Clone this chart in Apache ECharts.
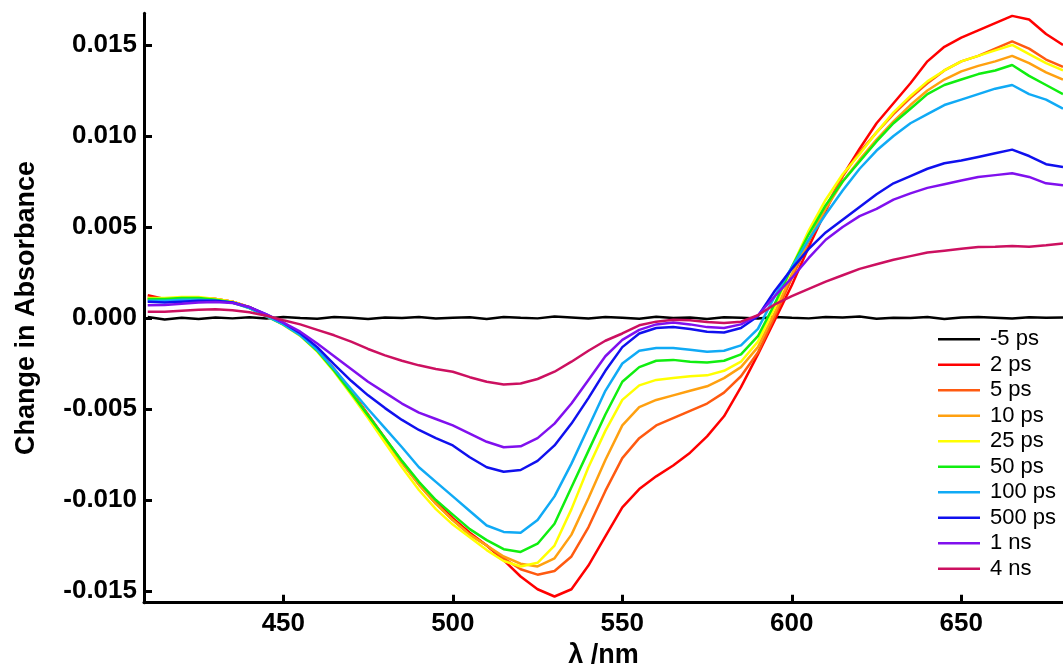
<!DOCTYPE html>
<html>
<head>
<meta charset="utf-8">
<script src="https://cdn.jsdelivr.net/npm/echarts@6/dist/echarts.min.js"></script>
<style>html,body{margin:0;padding:0;background:#fff}#c{width:1063px;height:666px}</style>
</head>
<body>
<div id="c"></div>
<script>
// wavelengths (nm)
const wavelengths = [410,415,420,425,430,435,440,445,450,455,460,465,470,475,480,485,490,495,500,505,510,515,520,525,530,535,540,545,550,555,560,565,570,575,580,585,590,595,600,605,610,615,620,625,630,635,640,645,650,655,660,665,670,675,680];

// Change in absorbance for each delay
const dA_m5ps = [0.05e-3,-0.08e-3,0.02e-3,-0.05e-3,0.03e-3,-0.02e-3,0.04e-3,-0.03e-3,0.06e-3,0.0,-0.04e-3,0.05e-3,0.02e-3,-0.06e-3,0.03e-3,0.0,0.05e-3,-0.03e-3,0.02e-3,0.04e-3,-0.05e-3,0.06e-3,0.01e-3,-0.02e-3,0.08e-3,0.03e-3,-0.03e-3,0.05e-3,0.02e-3,-0.04e-3,0.07e-3,0.0,0.03e-3,-0.05e-3,0.04e-3,0.02e-3,-0.03e-3,0.06e-3,0.01e-3,-0.02e-3,0.05e-3,0.03e-3,0.08e-3,-0.04e-3,0.02e-3,0.0,0.05e-3,-0.06e-3,0.03e-3,0.06e-3,0.02e-3,-0.03e-3,0.04e-3,0.01e-3,0.03e-3];
const dA_2ps = [1.25e-3,1.05e-3,1.12e-3,1.10e-3,1.05e-3,0.90e-3,0.60e-3,0.15e-3,-0.30e-3,-0.90e-3,-1.70e-3,-2.80e-3,-4.00e-3,-5.30e-3,-6.60e-3,-7.90e-3,-9.10e-3,-10.10e-3,-11.00e-3,-11.80e-3,-12.50e-3,-13.30e-3,-14.20e-3,-14.90e-3,-15.30e-3,-14.90e-3,-13.60e-3,-12.00e-3,-10.40e-3,-9.40e-3,-8.70e-3,-8.10e-3,-7.40e-3,-6.50e-3,-5.40e-3,-3.80e-3,-2.00e-3,-0.10e-3,1.80e-3,3.90e-3,5.90e-3,7.80e-3,9.30e-3,10.70e-3,11.80e-3,12.90e-3,14.10e-3,14.90e-3,15.40e-3,15.80e-3,16.20e-3,16.60e-3,16.40e-3,15.60e-3,15.00e-3];
const dA_5ps = [1.10e-3,1.05e-3,1.10e-3,1.10e-3,1.05e-3,0.90e-3,0.60e-3,0.15e-3,-0.30e-3,-0.90e-3,-1.75e-3,-2.85e-3,-4.05e-3,-5.35e-3,-6.65e-3,-7.95e-3,-9.15e-3,-10.20e-3,-11.10e-3,-11.90e-3,-12.50e-3,-13.20e-3,-13.80e-3,-14.10e-3,-13.90e-3,-13.10e-3,-11.50e-3,-9.50e-3,-7.70e-3,-6.60e-3,-5.90e-3,-5.50e-3,-5.10e-3,-4.70e-3,-4.10e-3,-3.20e-3,-1.90e-3,0.10e-3,2.20e-3,4.20e-3,6.10e-3,7.80e-3,9.10e-3,10.20e-3,11.20e-3,12.10e-3,12.90e-3,13.60e-3,14.10e-3,14.40e-3,14.80e-3,15.20e-3,14.80e-3,14.20e-3,13.80e-3];
const dA_10ps = [1.05e-3,1.05e-3,1.10e-3,1.10e-3,1.05e-3,0.90e-3,0.60e-3,0.15e-3,-0.30e-3,-0.90e-3,-1.75e-3,-2.85e-3,-4.05e-3,-5.35e-3,-6.65e-3,-7.95e-3,-9.15e-3,-10.20e-3,-11.10e-3,-11.90e-3,-12.50e-3,-13.10e-3,-13.50e-3,-13.65e-3,-13.20e-3,-11.90e-3,-9.90e-3,-7.80e-3,-5.90e-3,-4.90e-3,-4.50e-3,-4.25e-3,-4.00e-3,-3.75e-3,-3.30e-3,-2.70e-3,-1.60e-3,0.30e-3,2.40e-3,4.30e-3,6.00e-3,7.50e-3,8.70e-3,9.80e-3,10.80e-3,11.70e-3,12.50e-3,13.10e-3,13.55e-3,13.85e-3,14.10e-3,14.40e-3,14.00e-3,13.50e-3,13.10e-3];
const dA_25ps = [1.10e-3,1.10e-3,1.15e-3,1.15e-3,1.05e-3,0.90e-3,0.55e-3,0.10e-3,-0.38e-3,-0.98e-3,-1.85e-3,-2.95e-3,-4.20e-3,-5.50e-3,-6.85e-3,-8.20e-3,-9.45e-3,-10.50e-3,-11.35e-3,-12.05e-3,-12.75e-3,-13.35e-3,-13.65e-3,-13.45e-3,-12.50e-3,-10.50e-3,-8.20e-3,-6.20e-3,-4.50e-3,-3.70e-3,-3.40e-3,-3.30e-3,-3.20e-3,-3.15e-3,-2.90e-3,-2.40e-3,-1.30e-3,0.60e-3,2.80e-3,4.80e-3,6.50e-3,7.90e-3,9.00e-3,10.20e-3,11.30e-3,12.20e-3,13.00e-3,13.60e-3,14.10e-3,14.40e-3,14.70e-3,15.00e-3,14.50e-3,14.00e-3,13.60e-3];
const dA_50ps = [1.05e-3,1.05e-3,1.10e-3,1.10e-3,1.00e-3,0.85e-3,0.55e-3,0.10e-3,-0.35e-3,-0.95e-3,-1.80e-3,-2.90e-3,-4.10e-3,-5.35e-3,-6.60e-3,-7.85e-3,-9.00e-3,-10.00e-3,-10.80e-3,-11.60e-3,-12.20e-3,-12.70e-3,-12.85e-3,-12.40e-3,-11.30e-3,-9.30e-3,-7.30e-3,-5.30e-3,-3.50e-3,-2.70e-3,-2.35e-3,-2.30e-3,-2.40e-3,-2.45e-3,-2.35e-3,-2.00e-3,-1.00e-3,0.80e-3,2.80e-3,4.60e-3,6.20e-3,7.50e-3,8.60e-3,9.70e-3,10.70e-3,11.50e-3,12.30e-3,12.80e-3,13.10e-3,13.40e-3,13.60e-3,13.90e-3,13.30e-3,12.80e-3,12.30e-3];
const dA_100ps = [0.95e-3,0.95e-3,1.00e-3,1.00e-3,0.95e-3,0.85e-3,0.55e-3,0.10e-3,-0.35e-3,-0.95e-3,-1.75e-3,-2.80e-3,-3.90e-3,-5.00e-3,-6.05e-3,-7.10e-3,-8.20e-3,-9.00e-3,-9.80e-3,-10.60e-3,-11.40e-3,-11.75e-3,-11.80e-3,-11.10e-3,-9.80e-3,-8.00e-3,-6.00e-3,-4.00e-3,-2.50e-3,-1.80e-3,-1.65e-3,-1.65e-3,-1.75e-3,-1.85e-3,-1.80e-3,-1.50e-3,-0.60e-3,1.20e-3,2.80e-3,4.30e-3,5.70e-3,7.00e-3,8.20e-3,9.20e-3,10.00e-3,10.70e-3,11.20e-3,11.70e-3,12.00e-3,12.30e-3,12.60e-3,12.80e-3,12.30e-3,12.00e-3,11.50e-3];
const dA_500ps = [0.90e-3,0.85e-3,0.90e-3,0.95e-3,0.95e-3,0.85e-3,0.60e-3,0.20e-3,-0.26e-3,-0.84e-3,-1.60e-3,-2.55e-3,-3.45e-3,-4.25e-3,-4.95e-3,-5.60e-3,-6.15e-3,-6.60e-3,-7.00e-3,-7.65e-3,-8.20e-3,-8.45e-3,-8.35e-3,-7.85e-3,-7.00e-3,-5.80e-3,-4.40e-3,-2.90e-3,-1.60e-3,-0.85e-3,-0.55e-3,-0.50e-3,-0.60e-3,-0.75e-3,-0.80e-3,-0.55e-3,0.10e-3,1.50e-3,2.70e-3,3.80e-3,4.70e-3,5.40e-3,6.10e-3,6.80e-3,7.40e-3,7.80e-3,8.20e-3,8.50e-3,8.65e-3,8.85e-3,9.05e-3,9.25e-3,8.90e-3,8.45e-3,8.30e-3];
const dA_1ns = [0.70e-3,0.72e-3,0.78e-3,0.85e-3,0.88e-3,0.82e-3,0.60e-3,0.20e-3,-0.25e-3,-0.75e-3,-1.40e-3,-2.10e-3,-2.80e-3,-3.50e-3,-4.10e-3,-4.70e-3,-5.20e-3,-5.55e-3,-5.90e-3,-6.35e-3,-6.80e-3,-7.10e-3,-7.05e-3,-6.60e-3,-5.80e-3,-4.70e-3,-3.40e-3,-2.10e-3,-1.20e-3,-0.65e-3,-0.35e-3,-0.25e-3,-0.35e-3,-0.50e-3,-0.55e-3,-0.35e-3,0.15e-3,1.20e-3,2.20e-3,3.30e-3,4.30e-3,5.00e-3,5.60e-3,6.00e-3,6.50e-3,6.85e-3,7.15e-3,7.35e-3,7.55e-3,7.75e-3,7.85e-3,7.95e-3,7.75e-3,7.40e-3,7.30e-3];
const dA_4ns = [0.35e-3,0.35e-3,0.40e-3,0.45e-3,0.48e-3,0.42e-3,0.32e-3,0.12e-3,-0.12e-3,-0.35e-3,-0.65e-3,-0.95e-3,-1.30e-3,-1.70e-3,-2.05e-3,-2.35e-3,-2.60e-3,-2.80e-3,-2.95e-3,-3.25e-3,-3.50e-3,-3.65e-3,-3.60e-3,-3.35e-3,-2.95e-3,-2.40e-3,-1.80e-3,-1.25e-3,-0.85e-3,-0.40e-3,-0.20e-3,-0.10e-3,-0.12e-3,-0.22e-3,-0.28e-3,-0.20e-3,0.15e-3,0.75e-3,1.20e-3,1.60e-3,2.00e-3,2.35e-3,2.70e-3,2.95e-3,3.20e-3,3.40e-3,3.60e-3,3.70e-3,3.80e-3,3.90e-3,3.92e-3,3.95e-3,3.92e-3,4.00e-3,4.10e-3];

const seriesNames = ['-5 ps','2 ps','5 ps','10 ps','25 ps','50 ps','100 ps','500 ps','1 ns','4 ns'];
const seriesValues = [dA_m5ps,dA_2ps,dA_5ps,dA_10ps,dA_25ps,dA_50ps,dA_100ps,dA_500ps,dA_1ns,dA_4ns];
const seriesColors = ['#000000','#ff0000','#ff5a10','#ffa010','#ffff00','#10ee10','#10aaf5','#1010ee','#8010ee','#cc1060'];

const xTicks = [450,500,550,600,650];
const yTicks = [-0.015,-0.010,-0.005,0.000,0.005,0.010,0.015];

const FONT = '"Liberation Sans", Arial, Helvetica, sans-serif';

const chart = echarts.init(document.getElementById('c'), null, {renderer:'canvas'});
chart.setOption({
  animation: false,
  backgroundColor: '#ffffff',
  grid: {left:144, right:0, top:13.3, bottom:63.3, containLabel:false, outerBoundsMode:'none'},
  xAxis: {
    type:'value', min:408.9, max:680,
    name:'λ /nm', nameLocation:'middle', nameGap:34,
    nameTextStyle:{fontFamily:FONT, fontWeight:'bold', fontSize:27, color:'#000'},
    axisLine:{onZero:false, lineStyle:{color:'#000', width:3}},
    axisTick:{inside:true, length:8, lineStyle:{color:'#000', width:3}, customValues:xTicks},
    axisLabel:{fontFamily:FONT, fontWeight:'bold', fontSize:26, color:'#000', margin:8, customValues:xTicks},
    splitLine:{show:false}
  },
  yAxis: {
    type:'value', min:-0.01564, max:0.01674,
    name:'Change in Absorbance', nameLocation:'middle', nameGap:104, nameRotate:90,
    nameTextStyle:{fontFamily:FONT, fontWeight:'bold', fontSize:27, color:'#000'},
    axisLine:{onZero:false, lineStyle:{color:'#000', width:3}},
    axisTick:{inside:true, length:8, lineStyle:{color:'#000', width:3}, customValues:yTicks},
    axisLabel:{fontFamily:FONT, fontWeight:'bold', fontSize:26, color:'#000', margin:7,
      customValues:yTicks, formatter:(v)=>v.toFixed(3)},
    splitLine:{show:false}
  },
  legend: {
    orient:'vertical', left:933, top:323.3, icon:'rect', itemWidth:42, itemHeight:2.5, itemGap:3.5,
    data: seriesNames,
    textStyle:{fontFamily:FONT, fontSize:22, color:'#000', padding:[0,0,0,5]}
  },
  series: seriesNames.map((name,i)=>({
    name, type:'line', showSymbol:false, symbol:'none', color:seriesColors[i],
    lineStyle:{width:2.5, color:seriesColors[i]},
    data: wavelengths.map((w,j)=>[w, seriesValues[i][j]])
  }))
});
</script>
</body>
</html>
